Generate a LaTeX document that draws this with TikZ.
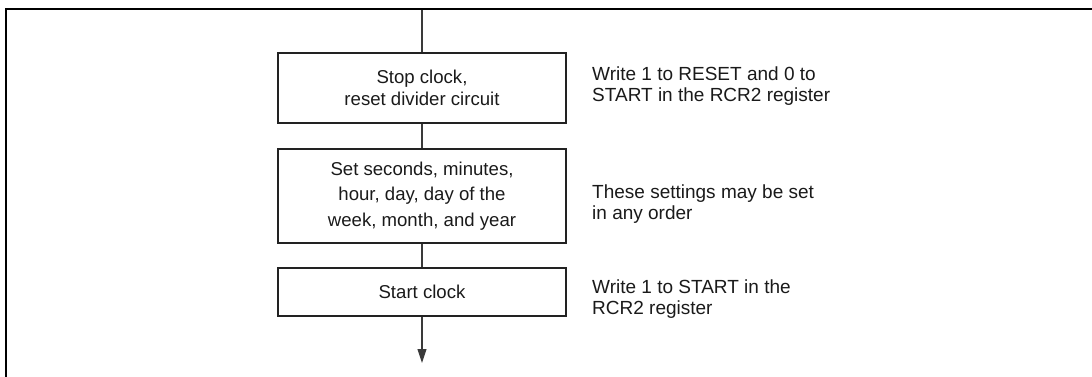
\documentclass[tikz,border=0pt]{standalone}
\usepackage{fontspec}
\setmainfont{Liberation Sans}
\usetikzlibrary{arrows.meta}
\definecolor{boxline}{HTML}{222222}
\definecolor{conline}{HTML}{3A3A3A}
\definecolor{txt}{HTML}{1A1A1A}
\tikzset{
  stepbox/.style={draw=boxline, line width=1.7pt, minimum width=288pt, inner sep=0pt,
    align=center, text=txt, font=\fontsize{18.6}{22}\selectfont},
  note/.style={anchor=west, inner sep=0pt, align=left, text=txt, font=\fontsize{19}{21}\selectfont},
  conn/.style={draw=conline, line width=1.1pt},
  frameline/.style={draw=black, line width=2.2pt}
}
\begin{document}
\begin{tikzpicture}[x=1pt,y=-1pt]
\useasboundingbox (0,0) rectangle (1092,377);
% outer frame (top and left edges)
\coordinate (fbl) at (6,378);
\coordinate (ftl) at (6,9);
\coordinate (ftr) at (1093,9);
\draw[frameline] (fbl) -- (ftl) -- (ftr);
% boxes
\node[stepbox, minimum height=70pt] (b1) at (422,88) {Stop clock,\\reset divider circuit};
\node[stepbox, minimum height=94pt, font=\fontsize{18.6}{25.5}\selectfont] (b2) at (422,196) {Set seconds, minutes,\\hour, day, day of the\\week, month, and year};
\node[stepbox, minimum height=48pt] (b3) at (422,292) {Start clock};
% notes
\node[note] (n1) at (592,86) {Write 1 to RESET and 0 to\\START in the RCR2 register};
\node[note] (n2) at (592,204) {These settings may be set\\in any order};
\node[note] (n3) at (592,299) {Write 1 to START in the\\RCR2 register};
% connectors
\coordinate (top) at (422,10);
\coordinate (bot) at (422,363);
\draw[conn] (top) -- (b1.north);
\draw[conn] (b1.south) -- (b2.north);
\draw[conn] (b2.south) -- (b3.north);
\draw[conn, -{Triangle[width=9pt,length=14pt]}] (b3.south) -- (bot);
\end{tikzpicture}
\end{document}
